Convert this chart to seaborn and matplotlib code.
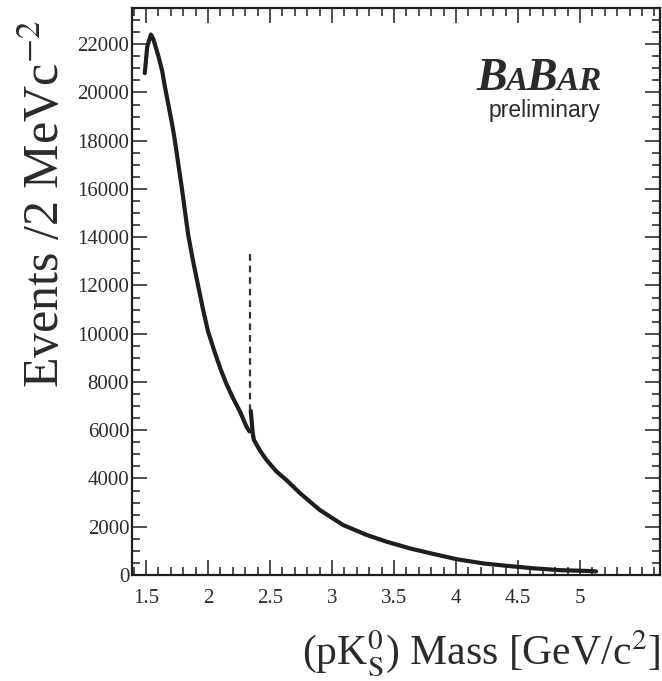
import numpy as np
import pandas as pd
import matplotlib
matplotlib.use("Agg")
import matplotlib.pyplot as plt
import matplotlib.transforms as mtransforms
from matplotlib.ticker import MultipleLocator, FixedLocator
import seaborn as sns

# ---- data ----
mass_low = [1.49, 1.51, 1.54, 1.56, 1.60, 1.63, 1.65, 1.68, 1.71, 1.73, 1.77, 1.79,
            1.84, 1.88, 1.92, 1.96, 2.00, 2.05, 2.10, 2.15, 2.20, 2.26, 2.31, 2.335]
events_low = [20800, 21900, 22400, 22200, 21500, 20900, 20300, 19500, 18700, 18100, 16700, 16000,
              14100, 13000, 12000, 11000, 10100, 9300, 8550, 7900, 7350, 6750, 6150, 5950]
mass_high = [2.345, 2.36, 2.37, 2.42, 2.47, 2.55, 2.64, 2.74, 2.90, 3.09, 3.28, 3.44,
             3.63, 3.82, 4.01, 4.22, 4.41, 4.62, 4.84, 5.05, 5.13]
events_high = [6800, 5900, 5600, 5150, 4780, 4300, 3900, 3400, 2700, 2070, 1660, 1380,
               1100, 870, 650, 480, 380, 280, 200, 170, 150]

x_ticks = [1.5, 2, 2.5, 3, 3.5, 4, 4.5, 5]
x_tick_labels = ["1.5", "2", "2.5", "3", "3.5", "4", "4.5", "5"]
y_ticks = [0, 2000, 4000, 6000, 8000, 10000, 12000, 14000, 16000, 18000, 20000, 22000]
y_tick_labels = [str(v) for v in y_ticks]

marker_mass = 2.34
marker_low = 6800
marker_high = 13400

x_title = r"(pK$_\mathrm{S}^0$) Mass [GeV/c$^2$]"
y_title = r"Events /2 MeVc$^{-2}$"

# ---- styling ----
sns.set_theme(style="ticks")
plt.rcParams['font.family'] = ['Liberation Serif', 'DejaVu Serif']
plt.rcParams['mathtext.fontset'] = 'stix'

ink = '#1e1e1e'
txt = '#2b2b2b'

df = pd.DataFrame({
    'mass': mass_low + mass_high,
    'events': events_low + events_high,
    'segment': ['low'] * len(mass_low) + ['high'] * len(mass_high),
})

W, H = 662, 681
fig = plt.figure(figsize=(W / 100, H / 100), dpi=100)
ax = fig.add_axes([132 / W, (H - 575) / H, (660 - 132) / W, (575 - 8) / H])

sns.lineplot(data=df, x='mass', y='events', units='segment', estimator=None,
             color=ink, linewidth=3.0, ax=ax, legend=False, sort=False)
ax.vlines(marker_mass, marker_low, marker_high, colors='#333333',
          linestyles=(0, (3, 2.2)), linewidth=1.6)

ax.set_xlim(1.387, 5.645)
ax.set_ylim(0, 23500)

ax.xaxis.set_major_locator(FixedLocator(x_ticks))
ax.set_xticklabels(x_tick_labels)
ax.xaxis.set_minor_locator(MultipleLocator(0.1))
ax.yaxis.set_major_locator(FixedLocator(y_ticks))
ax.set_yticklabels(y_tick_labels)
ax.yaxis.set_minor_locator(MultipleLocator(500))

ax.tick_params(which='both', direction='in', top=True, right=True, color=ink, width=1.1)
ax.tick_params(which='major', length=11)
ax.tick_params(which='minor', length=5.5)
ax.tick_params(axis='x', which='major', labelsize=15, pad=10, labelcolor=txt)
ax.tick_params(axis='y', which='major', labelsize=15, pad=2, labelcolor=txt)
for s in ax.spines.values():
    s.set_linewidth(1.6)
    s.set_color(ink)

ax.set_xlabel(x_title, fontsize=30, color=txt, loc='right', labelpad=15)
ax.set_ylabel(y_title, fontsize=36, color=txt, loc='top')
ax.yaxis.set_label_coords(-0.118, (575 - 20) / 567)

# ---- BaBar logo ----
fig.canvas.draw()
renderer = fig.canvas.get_renderer()
ident = mtransforms.IdentityTransform()
cur_x, base_y = 476, H - 90
for s, size in [("B", 33), ("A", 24), ("B", 33), ("A", 24), ("R", 24)]:
    t = fig.text(cur_x, base_y, s, transform=ident, fontsize=size, fontweight='bold',
                 fontstyle='italic', family='Liberation Serif', color=txt, va='baseline', ha='left')
    bb = t.get_window_extent(renderer=renderer)
    cur_x = bb.x1 - 1
fig.text(600, H - 117, "preliminary", transform=ident, fontsize=16.5,
         family='Liberation Sans', color=txt, va='baseline', ha='right')

fig.savefig("out.png", dpi=100)
